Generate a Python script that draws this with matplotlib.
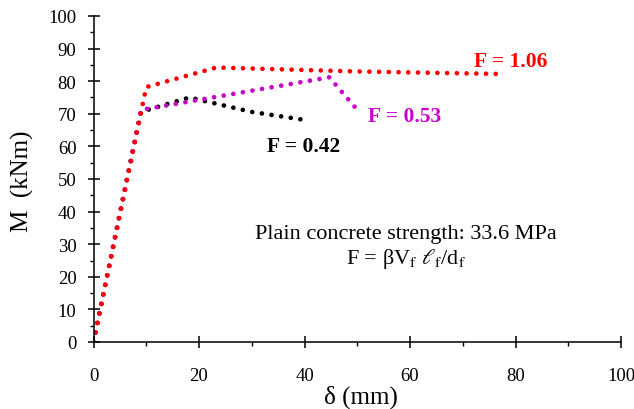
import matplotlib
matplotlib.use("Agg")
import matplotlib.pyplot as plt
from matplotlib.ticker import MultipleLocator

plt.rcParams['font.family'] = ['Liberation Serif', 'DejaVu Serif']
plt.rcParams['mathtext.fontset'] = 'stix'
plt.rcParams['lines.scale_dashes'] = False

# moment-deflection curves
d_106 = [0, 10.0, 23.3, 49.5, 77.7]
m_106 = [0, 78.2, 84.2, 83.0, 82.2]

d_053 = [0, 9.0, 44.7, 49.6]
m_053 = [0, 71.2, 81.2, 72.0]

d_042 = [0, 9.0, 18.2, 29.9, 40.9]
m_042 = [0, 70.6, 75.0, 70.6, 67.9]

labels = ["F = 1.06", "F = 0.53", "F = 0.42"]
colors = ["#ff0000", "#cc00cc", "#000000"]
# label anchor (baseline) in data coords
label_pos = [(79.1, 84.8), (58.9, 67.9), (39.8, 58.7)]

fig = plt.figure(figsize=(6.34, 4.10), dpi=100)
ax = fig.add_axes([93.5 / 634, 67 / 410, 527.5 / 634, 326 / 410])

dot = dict(linewidth=3.4, dashes=(0.001, 7.0), dash_capstyle='round')
ax.plot(d_042, m_042, color=colors[2], **dot)
ax.plot(d_053, m_053, color=colors[1], **dot)
ax.plot(d_106, m_106, color=colors[0], **dot)

for txt, col, (x, y) in zip(labels, colors, label_pos):
    ax.text(x, y, txt, color=col, fontsize=15.5, fontweight='bold',
            ha='center', va='baseline')

ax.text(59.3, 31.9, "Plain concrete strength: 33.6 MPa", fontsize=16,
        ha='center', va='baseline')
ax.text(59.3, 24.2,
        r"F = βV$_\mathrm{f}$ $\ell_\mathrm{f}$/d$_\mathrm{f}$",
        fontsize=16, ha='center', va='baseline')

ax.set_xlim(0, 100)
ax.set_ylim(0, 100)
ax.xaxis.set_major_locator(MultipleLocator(20))
ax.xaxis.set_minor_locator(MultipleLocator(10))
ax.yaxis.set_major_locator(MultipleLocator(10))
ax.yaxis.set_minor_locator(MultipleLocator(5))

for side in ['top', 'right']:
    ax.spines[side].set_visible(False)
for side in ['left', 'bottom']:
    ax.spines[side].set_linewidth(1.1)

ax.tick_params(axis='both', which='major', direction='inout', length=8.5,
               width=1.1, labelsize=13.5)
ax.tick_params(axis='both', which='minor', direction='out', length=3,
               width=1.0)
ax.tick_params(axis='x', which='major', pad=14)
ax.tick_params(axis='y', which='major', pad=8)

fig.text(22 / 634, 1 - 181 / 410, "M  (kNm)", rotation=90, fontsize=18,
         ha='center', va='center')
fig.text(360.5 / 634, 1 - 404 / 410, "δ (mm)", fontsize=18,
         ha='center', va='baseline')

fig.savefig("out.png", dpi=100)
